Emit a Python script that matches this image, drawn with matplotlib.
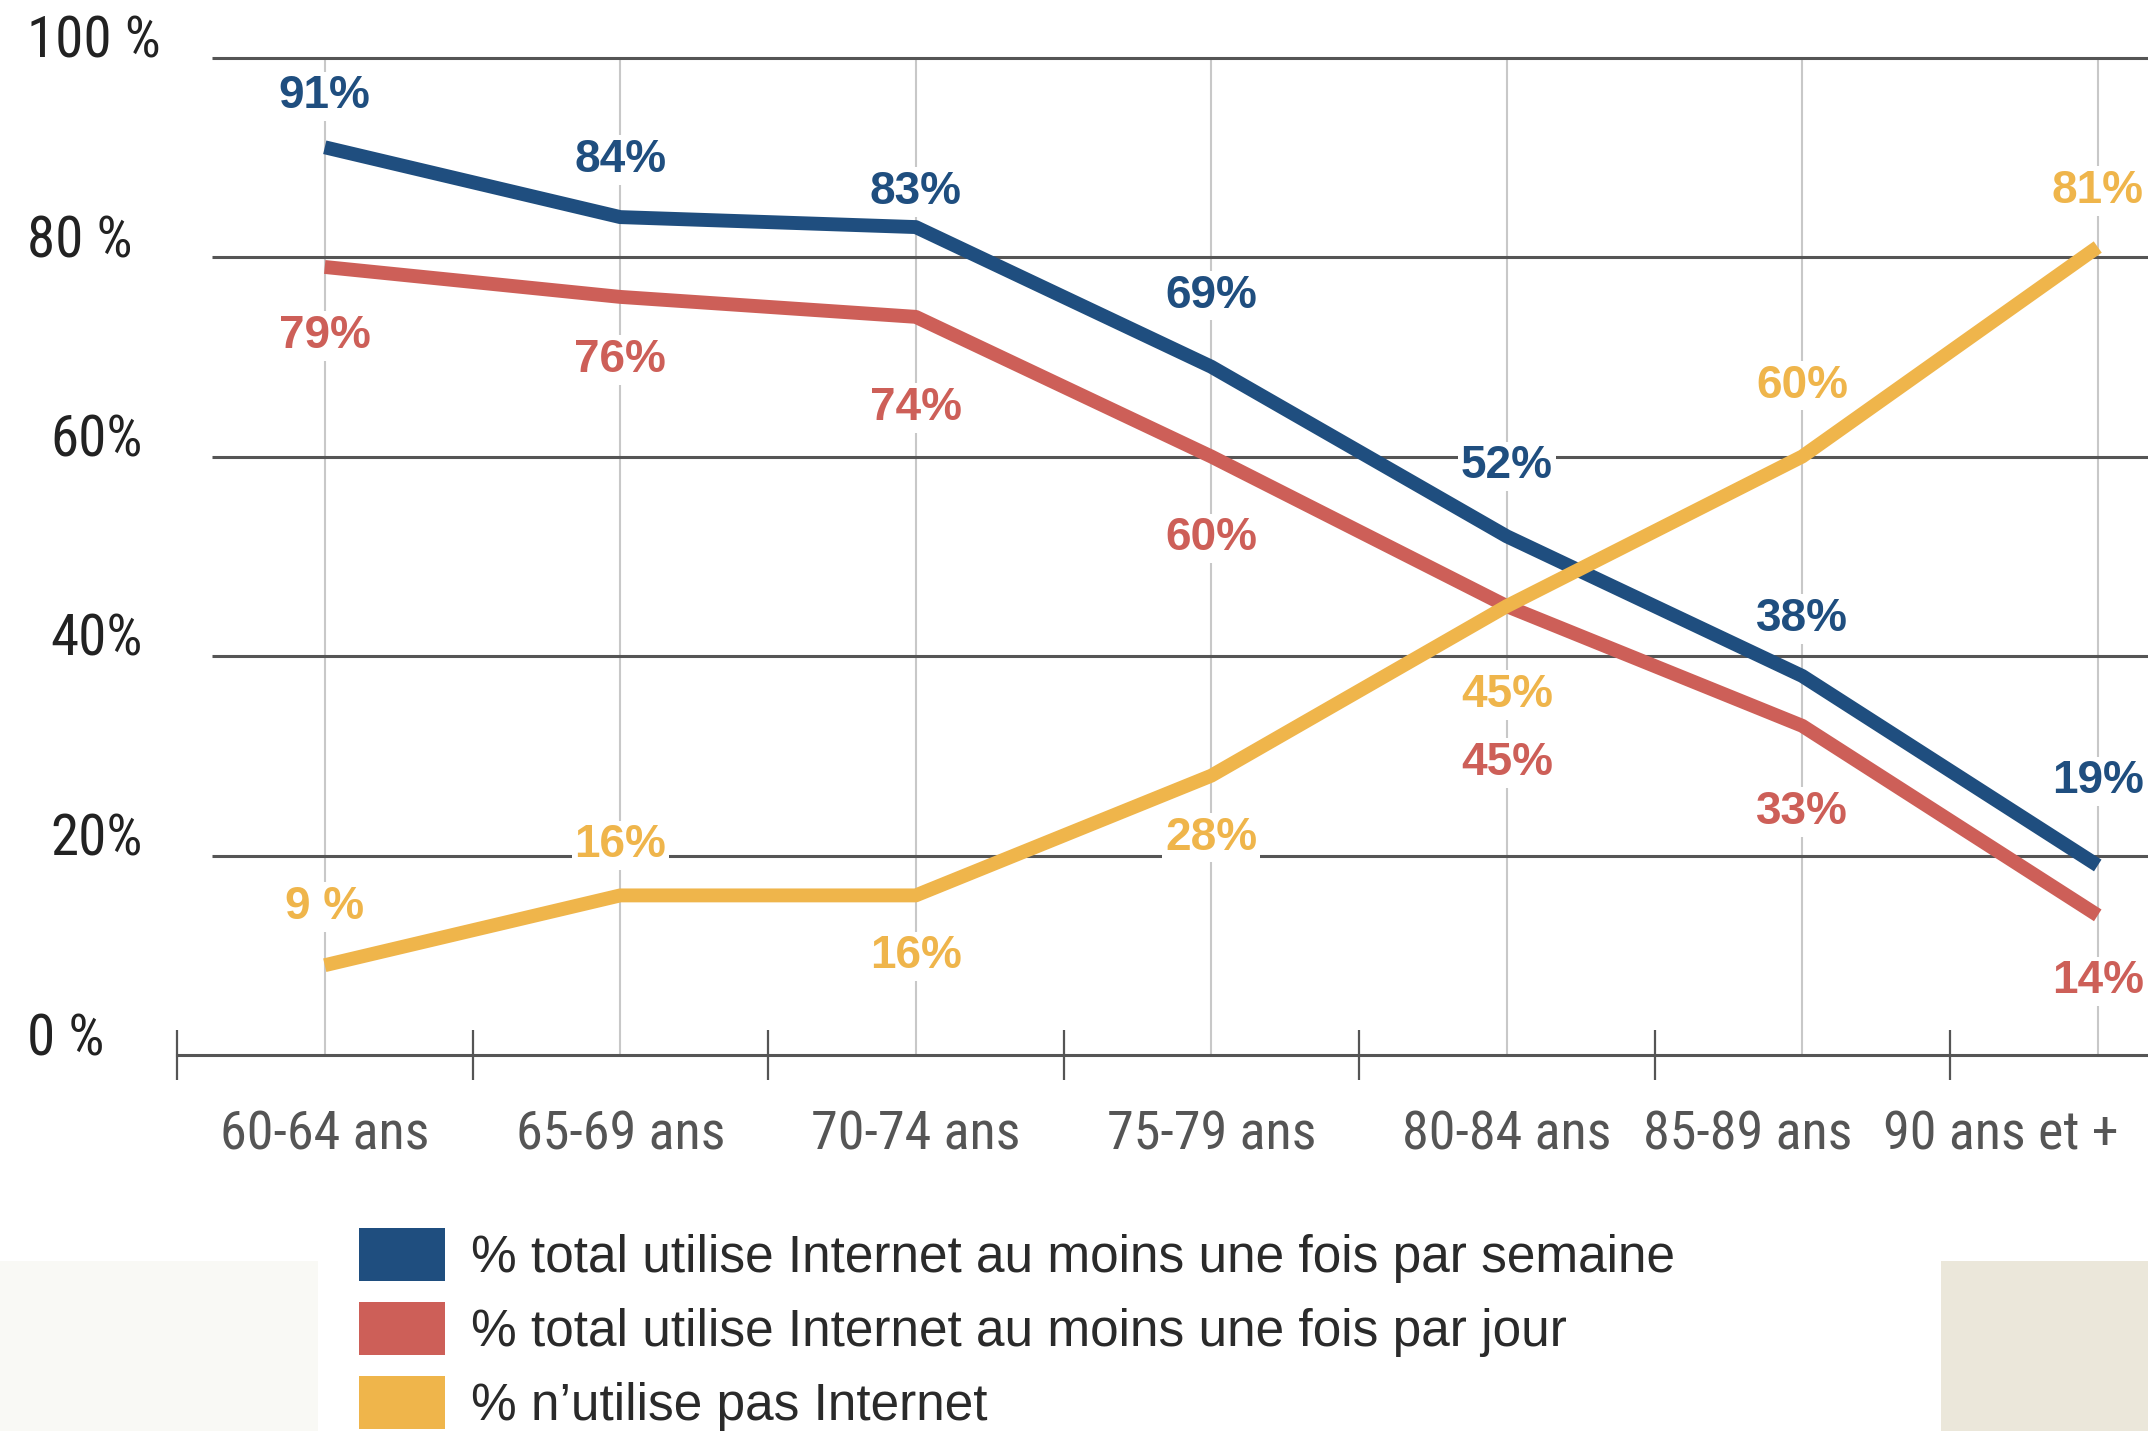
import matplotlib
matplotlib.use("Agg")
import matplotlib.pyplot as plt
from matplotlib import font_manager as fm
from matplotlib.patches import Patch, Rectangle
from matplotlib.transforms import ScaledTranslation

# ---------------- data ----------------
categories = ["60-64 ans", "65-69 ans", "70-74 ans", "75-79 ans",
              "80-84 ans", "85-89 ans", "90 ans et +"]
weekly = [91, 84, 83, 69, 52, 38, 19]
daily = [79, 76, 74, 60, 45, 33, 14]
non_users = [9, 16, 16, 28, 45, 60, 81]

weekly_labels = ["91%", "84%", "83%", "69%", "52%", "38%", "19%"]
daily_labels = ["79%", "76%", "74%", "60%", "45%", "33%", "14%"]
non_users_labels = ["9 %", "16%", "16%", "28%", "45%", "60%", "81%"]

series_names = ["% total utilise Internet au moins une fois par semaine",
                "% total utilise Internet au moins une fois par jour",
                "% n\u2019utilise pas Internet"]

y_ticks = [0, 20, 40, 60, 80, 100]
y_tick_labels = ["0 %", "20%", "40%", "60%", "80 %", "100 %"]

# ---------------- layout / style ----------------
W, H = 2148, 1431
DPI = 100
BLUE, RED, YELLOW = "#1f4e7f", "#cd5f58", "#efb54b"

# label offsets (pixels, vertical) relative to each point
weekly_off = [51, 57, 35, 71, 70, 57, 84]
daily_off = [-69, -63, -91, -82, -157, -86, -66]
non_off = [58, 50, -61, -62, -89, 71, 56]
# horizontal shift (points) of some y tick labels
ylab_shift = [0, 17, 17, 17, 0, 0]

names = {f.name for f in fm.fontManager.ttflist}
NARROW = "Liberation Sans Narrow" if "Liberation Sans Narrow" in names else (
    "Roboto Condensed" if "Roboto Condensed" in names else "Liberation Sans")
SANS = "Liberation Sans" if "Liberation Sans" in names else "DejaVu Sans"
plt.rcParams["font.family"] = [SANS, "DejaVu Sans"]

fig = plt.figure(figsize=(W / DPI, H / DPI), dpi=DPI)
fig.patch.set_facecolor("white")

# background decorative panels
fig.add_artist(Rectangle((0, 0), 318 / W, (H - 1261) / H, transform=fig.transFigure,
                         facecolor="#f9f9f5", edgecolor="none", zorder=0))
fig.add_artist(Rectangle((1941 / W, 0), (W - 1941) / W, (H - 1261) / H,
                         transform=fig.transFigure,
                         facecolor="#ebe7da", edgecolor="none", zorder=0))

ax_left = 177 / W
ax_bottom = 1 - 1055 / H
ax_top = 1 - 57.5 / H
ax = fig.add_axes([ax_left, ax_bottom, 1 - ax_left, ax_top - ax_bottom])
ax.set_facecolor("none")

x = list(range(len(categories)))
x_right = -0.5 + (W - 177) / 295.5
ax.set_xlim(-0.5, x_right)
ax.set_ylim(0, 100)

# grid
ax.hlines(y_ticks[1:], -0.38, x_right, colors="#555555", lw=2.2, zorder=1, clip_on=False)
ax.vlines(x, 0, 100, colors="#c8c8c8", lw=1.5, zorder=0.5)

for s in ["top", "right", "left"]:
    ax.spines[s].set_visible(False)
ax.spines["bottom"].set_color("#555555")
ax.spines["bottom"].set_linewidth(2.2)

# x ticks at category boundaries, labels at centers
bounds = [i - 0.5 for i in range(len(categories))]
ax.set_xticks(bounds)
ax.set_xticklabels([""] * len(bounds))
ax.tick_params(axis="x", which="major", direction="inout", length=36, width=1.6,
               color="#555555")
ax.set_xticks(x, minor=True)
ax.set_xticklabels(categories, minor=True, fontsize=39, color="#555555",
                   family=[NARROW, "DejaVu Sans"])
ax.tick_params(axis="x", which="minor", length=0, pad=39)
xlab_shift = [0, 0, 0, 0, 0, -39.6, -69.8]
for lab, dx in zip(ax.xaxis.get_minorticklabels(), xlab_shift):
    if dx:
        lab.set_transform(lab.get_transform() + ScaledTranslation(dx / 72, 0, fig.dpi_scale_trans))

# y ticks
ax.set_yticks(y_ticks)
ax.set_yticklabels(y_tick_labels, fontsize=41, color="#222222",
                   family=[NARROW, "DejaVu Sans"])
ax.tick_params(axis="y", length=0, pad=108)
for lab, dx in zip(ax.get_yticklabels(), ylab_shift):
    lab.set_ha("left")
    lab.set_va("baseline")
    if dx:
        lab.set_transform(lab.get_transform() + ScaledTranslation(dx / 72, 0, fig.dpi_scale_trans))

# lines
ax.plot(x, daily, color=RED, lw=10, solid_capstyle="butt", solid_joinstyle="round", zorder=3)
ax.plot(x, weekly, color=BLUE, lw=10, solid_capstyle="butt", solid_joinstyle="round", zorder=4)
ax.plot(x, non_users, color=YELLOW, lw=10, solid_capstyle="butt", solid_joinstyle="round", zorder=5)

# value labels
for vals, labs, offs, col in [(weekly, weekly_labels, weekly_off, BLUE),
                              (daily, daily_labels, daily_off, RED),
                              (non_users, non_users_labels, non_off, YELLOW)]:
    for xi, v, t, o in zip(x, vals, labs, offs):
        ax.annotate(t, (xi, v), xytext=(0, o), textcoords="offset pixels",
                    ha="center", va="center", fontsize=33, fontweight="bold",
                    color=col, zorder=2, annotation_clip=False,
                    bbox=dict(facecolor="white", edgecolor="none", pad=2))

# legend
handles = [Patch(facecolor=c, edgecolor="none") for c in (BLUE, RED, YELLOW)]
fig.legend(handles, series_names, loc="upper left",
           bbox_to_anchor=(359 / W, 1 - 1228 / H), frameon=False,
           fontsize=37, handlelength=1.68, handleheight=1.2, handletextpad=0.5,
           labelspacing=0.38, borderpad=0, borderaxespad=0, labelcolor="#2a2a2a")

fig.savefig("out.png", dpi=DPI, facecolor="white")
